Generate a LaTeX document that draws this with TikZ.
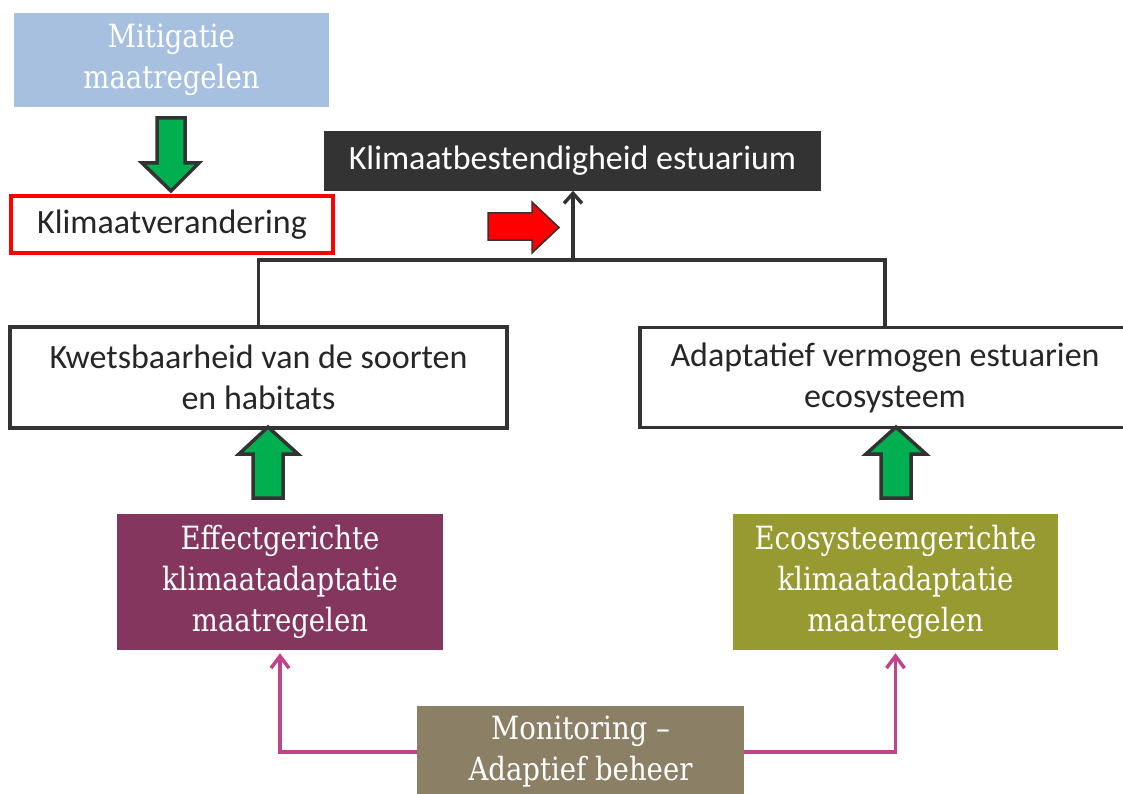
\documentclass[tikz,border=0pt]{standalone}
\usepackage{fontspec}
\setmainfont{Carlito}
\newfontfamily\slabfont[FakeStretch=0.86]{DejaVu Serif}
\usetikzlibrary{arrows.meta}
\definecolor{mitblue}{HTML}{A7C0E0}
\definecolor{effpurple}{HTML}{84365E}
\definecolor{ecoolive}{HTML}{969A30}
\definecolor{monbrown}{HTML}{8B7F66}
\definecolor{darkbox}{HTML}{333333}
\definecolor{linegray}{HTML}{333333}
\definecolor{pinkline}{HTML}{C0448A}
\definecolor{arrowgreen}{HTML}{00B050}
\definecolor{txtdark}{HTML}{262626}
\tikzset{
  calibox/.style={draw=linegray, line width=3.5pt, fill=white, text=txtdark,
    font=\fontsize{34}{41}\selectfont, align=center, inner sep=0pt},
  slabbox/.style={draw=none, text=white, font=\slabfont\fontsize{32}{41}\selectfont,
    align=center, inner sep=0pt},
  blockarrow/.style={draw=linegray, line width=3.5pt, line join=miter, fill=arrowgreen},
  treeline/.style={draw=linegray, line width=3.5pt},
  pinkarrow/.style={draw=pinkline, line width=3.5pt,
    -{Straight Barb[length=12pt,width=18pt,line width=3.5pt]}}
}
\begin{document}
\begin{tikzpicture}[x=1pt,y=-1pt]
\useasboundingbox (0,0) rectangle (1123,794);
% boxes
\node[slabbox, fill=mitblue, minimum width=315pt, minimum height=94pt] (mit) at (171.5,60) {Mitigatie\\maatregelen};
\node[calibox, draw=red, minimum width=322pt, minimum height=57pt] (kv) at (172,224.5) {Klimaatverandering};
\node[calibox, draw=darkbox, fill=darkbox, text=white, minimum width=493pt, minimum height=56pt] (kb) at (572.5,161) {Klimaatbestendigheid estuarium};
\node[calibox, minimum width=497pt, minimum height=101pt] (kw) at (258.5,377.5) {Kwetsbaarheid van de soorten\\en habitats};
\node[calibox, minimum width=490pt, minimum height=100pt] (ad) at (885,377.5) {Adaptatief vermogen estuarien\\ecosysteem};
\node[slabbox, fill=effpurple, minimum width=326pt, minimum height=136pt] (eff) at (280,582) {Effectgerichte\\klimaatadaptatie\\maatregelen};
\node[slabbox, fill=ecoolive, minimum width=325pt, minimum height=136pt] (eco) at (895.5,582) {Ecosysteemgerichte\\klimaatadaptatie\\maatregelen};
\node[slabbox, fill=monbrown, minimum width=327pt, minimum height=92pt] (mon) at (580.5,752) {Monitoring –\\Adaptief beheer};
% tree connectors
\coordinate (j) at (573,260);
\draw[treeline] (kw.north) |- (j) -| (ad.north);
\draw[treeline, -{Straight Barb[length=10pt,width=18pt,line width=3.5pt]}] (j) -- (kb.south -| j);
% pink connectors
\draw[pinkarrow, shorten >=3pt] (mon.west) -| (eff.south);
\draw[pinkarrow, shorten >=3pt] (mon.east) -| (eco.south);
% block arrows
\draw[blockarrow] (157,118) -- (185,118) -- (185,163) -- (199,163) -- (171,191) -- (142,163) -- (157,163) -- cycle;
\draw[blockarrow] (253,498) -- (283,498) -- (283,454) -- (298,454) -- (268,427) -- (239,454) -- (253,454) -- cycle;
\draw[blockarrow] (881,498) -- (911,498) -- (911,454) -- (926,454) -- (896,427) -- (866,454) -- (881,454) -- cycle;
\draw[draw=linegray, line width=1.5pt, line join=miter, fill=red] (488,213) -- (532,213) -- (532,202) -- (559,227.5) -- (532,253) -- (532,240) -- (488,240) -- cycle;
\end{tikzpicture}
\end{document}
